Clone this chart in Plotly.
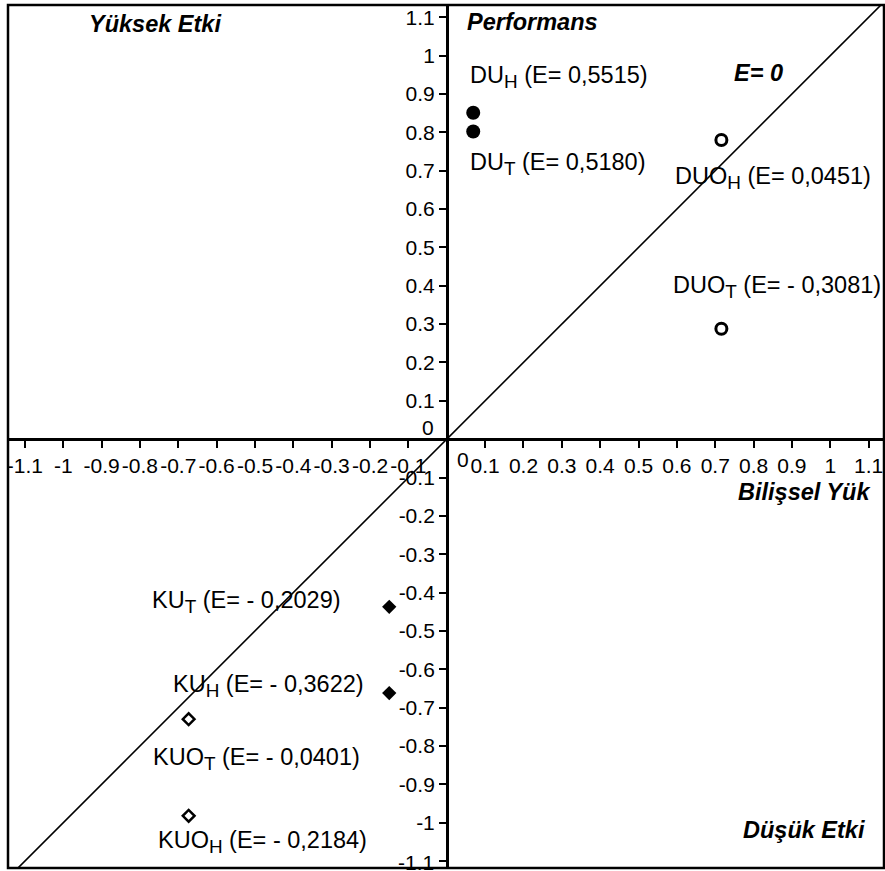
import plotly.graph_objects as go

# ---------------- data ----------------
point_names = ["DU<sub>H</sub>", "DU<sub>T</sub>", "DUO<sub>H</sub>", "DUO<sub>T</sub>",
               "KU<sub>T</sub>", "KU<sub>H</sub>", "KUO<sub>T</sub>", "KUO<sub>H</sub>"]
cognitive_load = [0.069, 0.069, 0.716, 0.716, -0.150, -0.150, -0.673, -0.673]
performance = [0.851, 0.802, 0.780, 0.288, -0.437, -0.662, -0.730, -0.982]
efficiency = [0.5515, 0.5180, 0.0451, -0.3081, -0.2029, -0.3622, -0.0401, -0.2184]
groups = ["DU", "DU", "DUO", "DUO", "KU", "KU", "KUO", "KUO"]

tick_vals = [-1.1, -1.0, -0.9, -0.8, -0.7, -0.6, -0.5, -0.4, -0.3, -0.2, -0.1,
             0.1, 0.2, 0.3, 0.4, 0.5, 0.6, 0.7, 0.8, 0.9, 1.0, 1.1]
tick_text = ["-1.1", "-1", "-0.9", "-0.8", "-0.7", "-0.6", "-0.5", "-0.4", "-0.3", "-0.2", "-0.1",
             "0.1", "0.2", "0.3", "0.4", "0.5", "0.6", "0.7", "0.8", "0.9", "1", "1.1"]
e0_line = [-1.3, 1.3]

x_range = [-1.144, 1.14]
y_range = [-1.118, 1.132]

# ---------------- styles ----------------
FONT = "Liberation Sans, Arial, sans-serif"
TICK_SIZE = 21
group_style = {
    "DU": dict(symbol="circle", size=14, color="black", line=dict(width=0, color="black")),
    "DUO": dict(symbol="circle-open", size=11, color="black", line=dict(width=3, color="black")),
    "KU": dict(symbol="diamond", size=11, color="black", line=dict(width=0, color="black")),
    "KUO": dict(symbol="diamond-open", size=9, color="black", line=dict(width=2.5, color="black")),
}
# label pixel offsets (xshift, yshift) relative to each point
label_offsets = [(-5, 36), (-5, -32), (-48, -38), (-50, 42),
                 (-239, 5), (-218, 7.5), (-38, -40), (-33, -26)]

fig = go.Figure()

fig.add_trace(go.Scatter(x=e0_line, y=e0_line, mode="lines",
                         line=dict(color="black", width=1.6), hoverinfo="skip",
                         showlegend=False))

for g in ["DU", "DUO", "KU", "KUO"]:
    idx = [i for i, gg in enumerate(groups) if gg == g]
    fig.add_trace(go.Scatter(
        x=[cognitive_load[i] for i in idx],
        y=[performance[i] for i in idx],
        mode="markers", marker=group_style[g], showlegend=False))


def fmt_e(v):
    s = f"{abs(v):.4f}".replace(".", ",")
    return ("- " + s) if v < 0 else s


def big_sub(name):
    return name.replace("<sub>", "<sub><span style='font-size:115%'>").replace("</sub>", "</span></sub>")


annotations = []
for i, name in enumerate(point_names):
    dx, dy = label_offsets[i]
    annotations.append(dict(
        x=cognitive_load[i], y=performance[i], xref="x", yref="y",
        text=f"{big_sub(name)} (E= {fmt_e(efficiency[i])})", showarrow=False,
        xanchor="left", yanchor="middle", xshift=dx, yshift=dy,
        font=dict(family=FONT, size=23.5, color="black")))

# zero tick labels and the bottom label that the axis hides
annotations.append(dict(x=0, y=0, xref="x", yref="y", text="0", showarrow=False,
                        xanchor="center", yanchor="middle", xshift=16, yshift=-20,
                        font=dict(family=FONT, size=TICK_SIZE, color="black")))
annotations.append(dict(x=0, y=0, xref="x", yref="y", text="0", showarrow=False,
                        xanchor="center", yanchor="middle", xshift=-19, yshift=12,
                        font=dict(family=FONT, size=TICK_SIZE, color="black")))
annotations.append(dict(x=0, y=tick_vals[0], xref="x", yref="y", text=tick_text[0],
                        showarrow=False, xanchor="right", yanchor="middle", xshift=-11,
                        yshift=-1,
                        font=dict(family=FONT, size=TICK_SIZE, color="black")))


def px_to_paper(px, py):
    return (px - 8) / 876, 1 - (py - 5) / 863


quad_labels = [("Yüksek Etki", 87, 24, "left"), ("Performans", 465, 22, "left"),
               ("E= 0", 732, 73, "left"), ("Bilişsel Yük", 873, 492, "right"),
               ("Düşük Etki", 867, 830, "right")]
for t, px, py, xa in quad_labels:
    xp, yp = px_to_paper(px, py)
    annotations.append(dict(x=xp, y=yp, xref="paper", yref="paper",
                            text=f"<b><i>{t}</i></b>", showarrow=False,
                            xanchor=xa, yanchor="middle",
                            font=dict(family=FONT, size=23.5, color="black")))

axis_common = dict(showgrid=False, zeroline=False, showline=True, linecolor="black",
                   linewidth=2.5, ticks="outside", ticklen=7, tickwidth=2,
                   tickcolor="black", tickvals=tick_vals, ticktext=tick_text,
                   tickfont=dict(family=FONT, size=TICK_SIZE, color="black"),
                   anchor="free", fixedrange=True, tickangle=0)

fig.update_layout(
    width=885, height=871,
    margin=dict(l=8, r=1, t=5, b=3, pad=0),
    paper_bgcolor="white", plot_bgcolor="white",
    xaxis=dict(range=x_range,
               position=(0 - y_range[0]) / (y_range[1] - y_range[0]),
               **axis_common),
    yaxis=dict(range=y_range,
               position=(0 - x_range[0]) / (x_range[1] - x_range[0]),
               **axis_common),
    annotations=annotations,
    shapes=[dict(type="rect", xref="paper", yref="paper", x0=0, y0=0, x1=1, y1=1,
                 line=dict(color="black", width=2.5))],
)

fig.write_html("out.html")
